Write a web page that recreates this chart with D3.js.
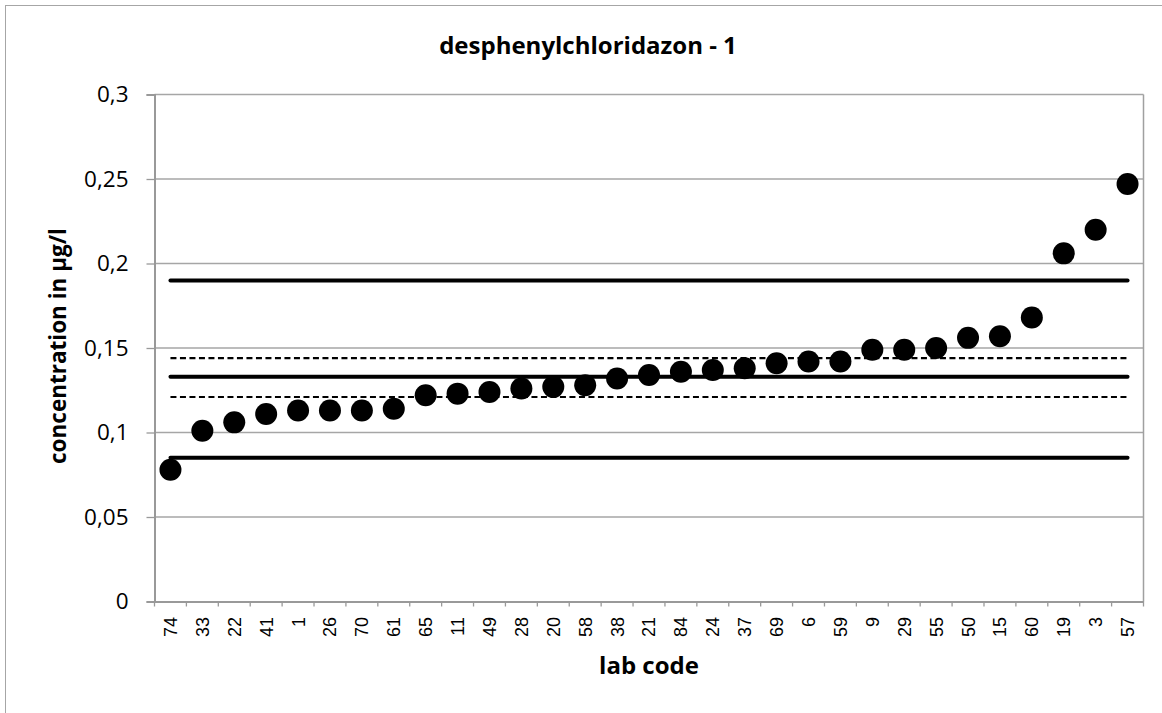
<!DOCTYPE html>
<html><head><meta charset="utf-8">
<script src="https://cdn.jsdelivr.net/npm/d3@7"></script>
<style>html,body{margin:0;padding:0;background:#fff;overflow:hidden}</style>
</head><body>
<svg id="c" width="1162" height="713"></svg>
<script>
const labCodes = ["74","33","22","41","1","26","70","61","65","11","49","28","20","58","38","21","84","24","37","69","6","59","9","29","55","50","15","60","19","3","57"];
const concentrations = [0.078,0.101,0.106,0.111,0.113,0.113,0.113,0.114,0.122,0.123,0.124,0.126,0.127,0.128,0.132,0.134,0.136,0.137,0.138,0.141,0.142,0.142,0.149,0.149,0.150,0.156,0.157,0.168,0.206,0.220,0.247];
const yTicks = [0,0.05,0.1,0.15,0.2,0.25,0.3];
const solidLines = [0.085,0.133,0.190];
const dashedLines = [0.121,0.144];
const titleText = "desphenylchloridazon - 1";
const xTitle = "lab code";
const yTitle = "concentration in µg/l";

const svg = d3.select("#c");
const L=154.5, R=1143.5, T=94.5, B=601.5;
const x = d3.scaleBand().domain(labCodes).range([L,R]);
const y = d3.scaleLinear().domain([0,0.3]).range([B,T]);
const fmt = d => String(d).replace(".", ",");
const FONT = "'Open Sans', Lato, sans-serif";

// outer chart border (left/top visible)
svg.append("rect").attr("x",5.5).attr("y",5.5).attr("width",1300).attr("height",900)
  .attr("fill","none").attr("stroke","#a6a6a6").attr("stroke-width",1);

// gridlines
svg.append("g").selectAll("line").data(yTicks.filter(d=>d>0)).join("line")
  .attr("x1",L).attr("x2",R).attr("y1",d=>y(d)).attr("y2",d=>y(d))
  .attr("stroke","#a6a6a6").attr("stroke-width",1.3);
// right border of plot
svg.append("line").attr("x1",R).attr("x2",R).attr("y1",T).attr("y2",B)
  .attr("stroke","#a0a0a0").attr("stroke-width",1.5);

// y axis
const yAxis = svg.append("g").attr("transform",`translate(${L},0)`)
  .call(d3.axisLeft(y).tickValues(yTicks).tickFormat(fmt).tickSize(8).tickPadding(18));
yAxis.select(".domain").attr("stroke","#999").attr("stroke-width",2);
yAxis.selectAll(".tick line").attr("stroke","#999").attr("stroke-width",1.3);
yAxis.selectAll("text").attr("font-family",FONT).attr("font-size",22.5).attr("fill","#000");

// x axis
const xAxis = svg.append("g").attr("transform",`translate(0,${B})`)
  .call(d3.axisBottom(x).tickSize(0).tickPadding(0));
xAxis.select(".domain").attr("stroke","#999").attr("stroke-width",2);
xAxis.selectAll(".tick text")
  .attr("font-family","'Liberation Sans', Arial, sans-serif").attr("font-size",18).attr("fill","#000")
  .attr("text-anchor","end").attr("y",0).attr("dy","0.36em")
  .attr("transform","translate(0,15.5) rotate(-90)");
// x tick marks at band edges
const edges = labCodes.map(d=>x(d)).concat([R]);
svg.append("g").selectAll("line").data(edges).join("line")
  .attr("x1",d=>d).attr("x2",d=>d).attr("y1",B).attr("y2",B+5)
  .attr("stroke","#999").attr("stroke-width",1.3);

// reference lines
const x0 = x(labCodes[0])+x.bandwidth()/2, x1 = x(labCodes[labCodes.length-1])+x.bandwidth()/2;
svg.append("g").selectAll("line").data(solidLines).join("line")
  .attr("x1",x0).attr("x2",x1).attr("y1",d=>y(d)).attr("y2",d=>y(d))
  .attr("stroke","#000").attr("stroke-width",4).attr("stroke-linecap","round");
svg.append("g").selectAll("line").data(dashedLines).join("line")
  .attr("x1",x0).attr("x2",x1).attr("y1",d=>y(d)).attr("y2",d=>y(d))
  .attr("stroke","#000").attr("stroke-width",2.2).attr("stroke-dasharray","6,3.5");

// points
svg.append("g").selectAll("circle").data(labCodes).join("circle")
  .attr("cx",d=>x(d)+x.bandwidth()/2).attr("cy",(d,i)=>y(concentrations[i])).attr("r",11).attr("fill","#000");

// titles
svg.append("text").attr("x",588).attr("y",54).attr("text-anchor","middle")
  .attr("font-family",FONT).attr("font-weight","bold").attr("font-size",24)
  .text(titleText);
svg.append("text").attr("x",649).attr("y",674).attr("text-anchor","middle")
  .attr("font-family",FONT).attr("font-weight","bold").attr("font-size",24)
  .text(xTitle);
svg.append("text").attr("transform","translate(65.5,346) rotate(-90)").attr("text-anchor","middle")
  .attr("font-family",FONT).attr("font-weight","bold").attr("font-size",22.5)
  .text(yTitle);
</script>
</body></html>
